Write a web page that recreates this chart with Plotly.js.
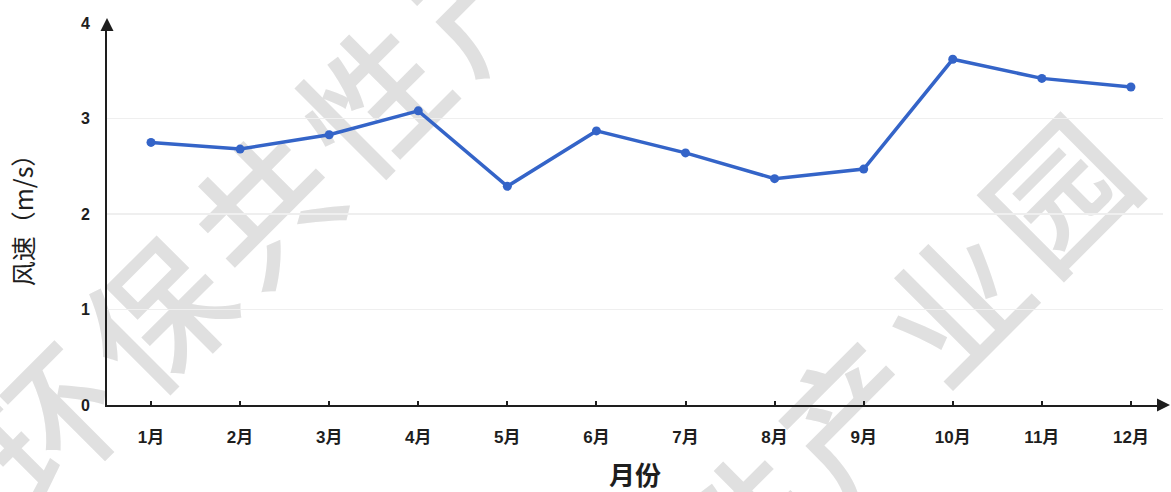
<!DOCTYPE html>
<html>
<head>
<meta charset="utf-8">
<script src="https://cdn.plot.ly/plotly-3.0.1.min.js"></script>
<style>
  html, body { margin: 0; padding: 0; background: #ffffff; }
  #chart { width: 1171px; height: 492px; }
</style>
</head>
<body>
<div id="chart"></div>
<script>
// Monthly mean wind speed (m/s)
const months = ['1月', '2月', '3月', '4月', '5月', '6月', '7月', '8月', '9月', '10月', '11月', '12月'];
const windSpeed = [2.75, 2.68, 2.83, 3.08, 2.29, 2.87, 2.64, 2.37, 2.47, 3.62, 3.42, 3.33];
const yTicks = [0, 1, 2, 3, 4];

const xTitle = '月份';
const yTitle = '风速（m/s）';

// watermark characters, two diagonal runs
const markRunA = ['环', '保', '共', '性', '产'];
const markRunB = ['性', '产', '业', '园'];

const W = 1171, H = 492;
const M = { l: 107, r: 8, t: 23, b: 87 };
const PW = W - M.l - M.r, PH = H - M.t - M.b;
const toPaperX = px => (px - M.l) / PW;
const toPaperY = py => (H - M.b - py) / PH;

const cjk = '"Liberation Sans", Arial, "Noto Sans CJK SC", sans-serif';
const inkColor = '#1e1e1e';
const lineBlue = '#3464c8';

function watermark(chars, startX, startY, stepX, stepY) {
  return chars.map((ch, i) => {
    const cx = startX + i * stepX, cy = startY - i * stepY;
    return {
      type: 'rect', xref: 'paper', yref: 'paper', layer: 'below',
      x0: toPaperX(cx - 60), x1: toPaperX(cx + 60),
      y0: toPaperY(cy + 60), y1: toPaperY(cy - 60),
      line: { width: 0 }, fillcolor: 'rgba(0,0,0,0)',
      label: {
        text: ch, textangle: -45, textposition: 'middle center',
        font: { family: '"Noto Sans CJK SC", sans-serif', size: 140, weight: 500, color: '#e0e0e0' }
      }
    };
  });
}

const shapes = []
  .concat(watermark(markRunA, 60, 435, 108, 108))
  .concat(watermark(markRunB, 758, 538, 104, 111));

const trace = {
  type: 'scatter',
  mode: 'lines+markers',
  x: months,
  y: windSpeed,
  line: { color: lineBlue, width: 3.5 },
  marker: { color: lineBlue, size: 9, symbol: 'circle' },
  cliponaxis: false,
  hoverinfo: 'x+y'
};

const layout = {
  width: W, height: H,
  margin: M,
  paper_bgcolor: '#ffffff',
  plot_bgcolor: 'rgba(0,0,0,0)',
  showlegend: false,
  font: { family: cjk, color: inkColor },
  xaxis: {
    type: 'category',
    range: [-0.494, 11.36],
    showgrid: false,
    zeroline: false,
    showline: true, linecolor: inkColor, linewidth: 2,
    ticks: 'inside', ticklen: 4, tickwidth: 2, tickcolor: inkColor,
    ticklabelstandoff: 16,
    tickfont: { family: cjk, size: 17, weight: 'bold', color: inkColor },
    title: { text: xTitle, standoff: 23, font: { family: '"Noto Sans CJK SC", sans-serif', size: 26, weight: 'bold', color: inkColor } },
    fixedrange: true
  },
  yaxis: {
    range: [0, 4],
    tickvals: yTicks,
    ticktext: yTicks.map(String),
    showgrid: true, gridcolor: '#efefef', gridwidth: 1.5,
    zeroline: false,
    showline: true, linecolor: inkColor, linewidth: 2,
    ticks: '',
    ticklabelstandoff: 12,
    tickfont: { family: cjk, size: 16, weight: 'bold', color: inkColor },
    title: { text: yTitle, standoff: 40, font: { family: '"Noto Sans CJK SC", sans-serif', size: 25, color: inkColor } },
    fixedrange: true
  },
  shapes: shapes,
  annotations: [
    // arrow head on top of the y axis
    { xref: 'paper', yref: 'paper', x: 0, y: 1 + 5 / PH, ax: 0, ay: 12,
      showarrow: true, arrowhead: 2, arrowsize: 1.3, arrowwidth: 2, arrowcolor: inkColor, text: '' },
    // arrow head at the end of the x axis
    { xref: 'paper', yref: 'paper', x: 1 + 7 / PW, y: 0, ax: -12, ay: 0,
      showarrow: true, arrowhead: 2, arrowsize: 1.3, arrowwidth: 2, arrowcolor: inkColor, text: '' }
  ]
};

Plotly.newPlot('chart', [trace], layout, { displayModeBar: false, staticPlot: true });
</script>
</body>
</html>
